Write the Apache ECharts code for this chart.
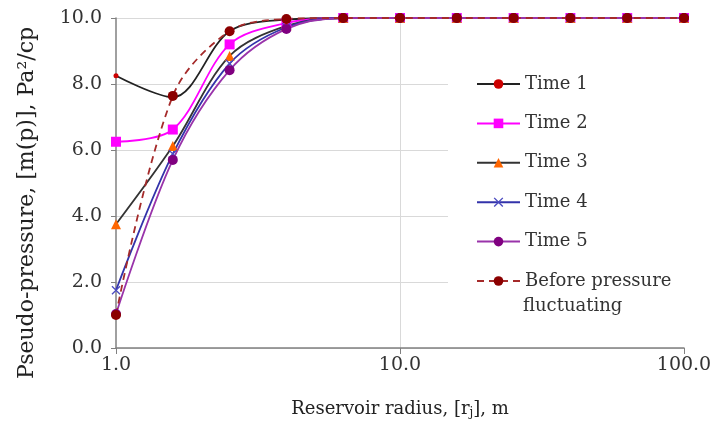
<!DOCTYPE html>
<html><head><meta charset="utf-8">
<script src="https://cdn.jsdelivr.net/npm/echarts@6/dist/echarts.min.js"></script>
<style>html,body{margin:0;padding:0;background:#fff}#c{width:717px;height:427px}</style>
</head><body><div id="c"></div>
<script>
const radius = [1, 1.585, 2.512, 3.981, 6.31, 10, 15.85, 25.12, 39.81, 63.1, 100];
const time1 = [8.25, 7.6, 9.6, 9.95, 10, 10, 10, 10, 10, 10, 10];
const time2 = [6.25, 6.62, 9.2, 9.85, 10, 10, 10, 10, 10, 10, 10];
const time3 = [3.75, 6.12, 8.85, 9.76, 10, 10, 10, 10, 10, 10, 10];
const time4 = [1.75, 5.88, 8.62, 9.72, 10, 10, 10, 10, 10, 10, 10];
const time5 = [1.03, 5.7, 8.42, 9.67, 10, 10, 10, 10, 10, 10, 10];
const before = [1.0, 7.64, 9.6, 9.97, 10, 10, 10, 10, 10, 10, 10];
const yTicks = ['0.0', '2.0', '4.0', '6.0', '8.0', '10.0'];
const xTicks = ['1.0', '10.0', '100.0'];

const F = 'DejaVu Serif';
const pair = arr => arr.map((v, i) => [radius[i], v]);
const cross = 'path://M0,1L1,0L5,4L9,0L10,1L6,5L10,9L9,10L5,6L1,10L0,9L4,5Z';

function ser(name, data, lineColor, symbol, symColor, size, dashed) {
  return {
    name, type: 'line', data: pair(data), smooth: 0.33,
    symbol, symbolSize: size, showSymbol: true,
    lineStyle: { color: lineColor, width: 1.8, type: dashed ? [7, 5] : 'solid' },
    itemStyle: { color: symColor },
    emphasis: { disabled: true }, animation: false
  };
}

const chart = echarts.init(document.getElementById('c'));
chart.setOption({
  animation: false,
  grid: { left: 116, right: 33, top: 18, bottom: 79 },
  xAxis: {
    type: 'log', logBase: 10, min: 1, max: 100,
    name: 'Reservoir radius, [r{sub|j}], m', nameLocation: 'middle', nameGap: 51,
    nameTextStyle: { fontFamily: F, fontSize: 18, color: '#222',
      rich: { sub: { fontFamily: F, fontSize: 12, color: '#222', padding: [8, 0, 0, 0] } } },
    axisLine: { lineStyle: { color: '#808080', width: 1.5 } },
    axisTick: { show: true, inside: false, length: 6, lineStyle: { color: '#808080' } },
    axisLabel: { fontFamily: F, fontSize: 19, color: '#333', margin: 8,
      formatter: v => xTicks[Math.round(Math.log10(v))] },
    splitLine: { show: true, showMinLine: false, showMaxLine: false, lineStyle: { color: '#d9d9d9', width: 1 } },
    minorTick: { show: false }, minorSplitLine: { show: false }
  },
  yAxis: {
    type: 'value', min: 0, max: 10, interval: 2,
    name: 'Pseudo-pressure, [m(p)], Pa²/cp', nameLocation: 'middle', nameGap: 78,
    nameTextStyle: { fontFamily: F, fontSize: 22, color: '#222', padding: [0, 40, 0, 0] },
    axisLine: { show: true, lineStyle: { color: '#808080', width: 1.5 } },
    axisTick: { show: true, inside: false, length: 5, lineStyle: { color: '#808080' } },
    axisLabel: { fontFamily: F, fontSize: 19, color: '#333', margin: 14,
      formatter: v => yTicks[Math.round(v / 2)] },
    splitLine: { show: true, lineStyle: { color: '#d9d9d9', width: 1 } }
  },
  legend: {
    orient: 'vertical', left: 448, top: 59,
    padding: [15, 20, 40, 28], backgroundColor: '#fff',
    itemWidth: 43, itemHeight: 12, itemGap: 19.4,
    textStyle: { fontFamily: F, fontSize: 18, color: '#333', lineHeight: 20 },
    formatter: n => n === 'Before pressure fluctuating' ? 'Before pressure' : n,
    selectedMode: false
  },
  graphic: [{
    type: 'text', left: 523, top: 297, z: 100,
    style: { text: 'fluctuating', font: '18px "DejaVu Serif"', fill: '#333' }
  }],
  series: [
    ser('Time 1', time1, '#222', 'circle', '#cc0000', 5, false),
    ser('Time 2', time2, '#ff00ff', 'rect', '#ff00ff', 10, false),
    ser('Time 3', time3, '#333', 'triangle', '#ff6600', 10, false),
    ser('Time 4', time4, '#3333aa', cross, '#4b4bc0', 9, false),
    ser('Time 5', time5, '#9933aa', 'circle', '#800080', 10, false),
    ser('Before pressure fluctuating', before, '#a52a2a', 'circle', '#8b0000', 10, true)
  ]
});
</script></body></html>
